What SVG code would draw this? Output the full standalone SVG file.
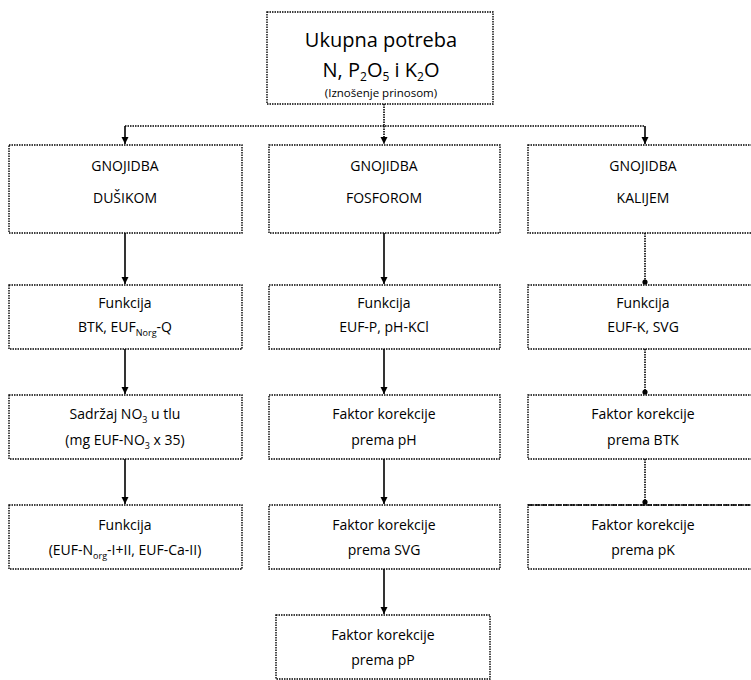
<svg xmlns="http://www.w3.org/2000/svg" width="751" height="680" viewBox="0 0 751 680">
<style>
.box{fill:#fff;stroke:#000;stroke-width:1.4;stroke-dasharray:1.5 1}
.t{font-family:"Open Sans","Liberation Sans",sans-serif;font-size:14px;fill:#000;text-anchor:middle}
.big{font-size:20px}
.sm{font-size:11.5px}
.c{stroke:#000;stroke-width:1.6;fill:none}
.d{stroke:#000;stroke-width:1.6;fill:none;stroke-dasharray:1.5 1}
</style>
<defs>
<marker id="a" markerWidth="8" markerHeight="8" refX="7" refY="4" orient="auto" markerUnits="userSpaceOnUse">
<path d="M0,0.5 L7,4 L0,7.5 Z" fill="#000"/>
</marker>
<marker id="b" markerWidth="8" markerHeight="8" refX="6" refY="4" orient="auto" markerUnits="userSpaceOnUse">
<circle cx="4" cy="4" r="2.6" fill="#000"/>
</marker>
</defs>
<g id="connectors">
<path class="d" d="M384,104 V126 M125,126 H645" />
<path class="c" d="M125,126 V144" marker-end="url(#a)"/>
<path class="d" d="M384,126 V144" marker-end="url(#a)"/>
<path class="c" d="M645,126 V144" marker-end="url(#a)"/>
<path class="c" d="M125,233 V284" marker-end="url(#a)"/>
<path class="c" d="M384,233 V284" marker-end="url(#a)"/>
<path class="d" d="M645,233 V284" marker-end="url(#b)"/>
<path class="c" d="M125,349 V394" marker-end="url(#a)"/>
<path class="c" d="M384,349 V394" marker-end="url(#a)"/>
<path class="d" d="M645,349 V394" marker-end="url(#b)"/>
<path class="c" d="M125,459 V504" marker-end="url(#a)"/>
<path class="c" d="M384,459 V504" marker-end="url(#a)"/>
<path class="d" d="M645,459 V504" marker-end="url(#b)"/>
<path class="c" d="M384,569 V614" marker-end="url(#a)"/>
</g>
<g id="top">
<rect class="box" x="267" y="12" width="226" height="92"/>
<text class="t big" x="381" y="47">Ukupna potreba</text>
<text class="t big" x="381" y="77">N, P<tspan font-size="12" dy="4">2</tspan><tspan dy="-4">O</tspan><tspan font-size="12" dy="4">5</tspan><tspan dy="-4"> i K</tspan><tspan font-size="12" dy="4">2</tspan><tspan dy="-4">O</tspan></text>
<text class="t sm" x="381" y="97">(Iznošenje prinosom)</text>
</g>
<g id="gn-n">
<rect class="box" x="9" y="145" width="233" height="88"/>
<text class="t" x="125" y="171">GNOJIDBA</text>
<text class="t" x="125" y="203">DUŠIKOM</text>
</g>
<g id="gn-p">
<rect class="box" x="269" y="145" width="231" height="88"/>
<text class="t" x="384" y="171">GNOJIDBA</text>
<text class="t" x="384" y="203">FOSFOROM</text>
</g>
<g id="gn-k">
<rect class="box" x="528" y="145" width="240" height="88"/>
<text class="t" x="643" y="171">GNOJIDBA</text>
<text class="t" x="643" y="203">KALIJEM</text>
</g>
<g id="f-n">
<rect class="box" x="9" y="285" width="233" height="64"/>
<text class="t" x="125" y="308">Funkcija</text>
<text class="t" x="125" y="332">BTK, EUF<tspan font-size="9" dy="4">Norg</tspan><tspan dy="-4">-Q</tspan></text>
</g>
<g id="f-p">
<rect class="box" x="269" y="285" width="231" height="64"/>
<text class="t" x="384" y="308">Funkcija</text>
<text class="t" x="384" y="332">EUF-P, pH-KCl</text>
</g>
<g id="f-k">
<rect class="box" x="528" y="285" width="240" height="64"/>
<text class="t" x="643" y="308">Funkcija</text>
<text class="t" x="643" y="332">EUF-K, SVG</text>
</g>
<g id="s-n">
<rect class="box" x="9" y="395" width="233" height="64"/>
<text class="t" x="125" y="419">Sadržaj NO<tspan font-size="9" dy="4">3</tspan><tspan dy="-4"> u tlu</tspan></text>
<text class="t" x="125" y="445">(mg EUF-NO<tspan font-size="9" dy="4">3</tspan><tspan dy="-4"> x 35)</tspan></text>
</g>
<g id="k-ph">
<rect class="box" x="269" y="395" width="231" height="64"/>
<text class="t" x="384" y="419">Faktor korekcije</text>
<text class="t" x="384" y="445">prema pH</text>
</g>
<g id="k-btk">
<rect class="box" x="528" y="395" width="240" height="64"/>
<text class="t" x="643" y="419">Faktor korekcije</text>
<text class="t" x="643" y="445">prema BTK</text>
</g>
<g id="f-n2">
<rect class="box" x="9" y="505" width="233" height="64"/>
<text class="t" x="125" y="530">Funkcija</text>
<text class="t" x="125" y="555">(EUF-N<tspan font-size="9" dy="4">org</tspan><tspan dy="-4">-I+II, EUF-Ca-II)</tspan></text>
</g>
<g id="k-svg">
<rect class="box" x="269" y="505" width="231" height="64"/>
<text class="t" x="384" y="530">Faktor korekcije</text>
<text class="t" x="384" y="555">prema SVG</text>
</g>
<g id="k-pk">
<rect class="box" x="528" y="505" width="240" height="64"/>
<path d="M528,505 H751" stroke="#000" stroke-width="1.4" stroke-dasharray="5 2" fill="none"/>
<text class="t" x="643" y="530">Faktor korekcije</text>
<text class="t" x="643" y="555">prema pK</text>
</g>
<g id="k-pp">
<rect class="box" x="276" y="615" width="214" height="64"/>
<text class="t" x="383" y="640">Faktor korekcije</text>
<text class="t" x="383" y="665">prema pP</text>
</g>
</svg>
